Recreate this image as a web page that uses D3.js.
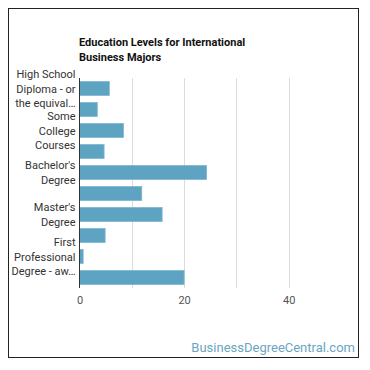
<!DOCTYPE html>
<html>
<head>
<meta charset="utf-8">
<script src="https://cdn.jsdelivr.net/npm/d3@7"></script>
<style>
  body { margin: 0; background: #fff; }
  svg { font-family: Roboto, "Noto Sans", sans-serif; }
</style>
</head>
<body>
<script>
const width = 370;
const height = 370;

const categories = [
  "High School Diploma - or the equivalent (for example, GED)",
  "Post-Secondary Certificate",
  "Some College Courses",
  "Associate's Degree",
  "Bachelor's Degree",
  "Post-Baccalaureate Certificate",
  "Master's Degree",
  "Post-Master's Certificate",
  "First Professional Degree - awarded for completion of a program",
  "Doctoral Degree"
];
// label lines as shown beside the axis (every other one is skipped)
const tickLines = [
  ["High School", "Diploma - or", "the equival…"],
  [],
  ["Some", "College", "Courses"],
  [],
  ["Bachelor's", "Degree"],
  [],
  ["Master's", "Degree"],
  [],
  ["First", "Professional", "Degree - aw…"],
  []
];
const values = [5.7, 3.4, 8.4, 4.7, 24.3, 11.9, 15.8, 4.9, 0.7, 20.0];
const xTicks = [0, 10, 20, 30, 40];
const xLabels = [0, 20, 40];

const svg = d3.select("body").append("svg")
  .attr("width", width)
  .attr("height", height);

// outer frame
svg.append("rect")
  .attr("x", 8.5).attr("y", 8.5)
  .attr("width", 350).attr("height", 349)
  .attr("fill", "none")
  .attr("stroke", "#222")
  .attr("stroke-width", 1);

const plotLeft = 79.5, plotRight = 341, plotTop = 78, plotBottom = 288;

const x = d3.scaleLinear().domain([0, 50]).range([plotLeft, plotRight]);
const y = d3.scaleBand().domain(categories).range([plotTop, plotBottom]).paddingInner(0.34).paddingOuter(0.17);

// title
svg.append("text")
  .attr("x", 79).attr("y", 46)
  .attr("font-size", 11).attr("font-weight", "bold").attr("fill", "#111")
  .selectAll("tspan")
  .data(["Education Levels for International", "Business Majors"])
  .join("tspan")
    .attr("x", 79)
    .attr("dy", (d, i) => i ? 15 : 0)
    .text(d => d);

// grid
svg.append("g")
  .selectAll("line")
  .data(xTicks.slice(1))
  .join("line")
    .attr("x1", d => Math.round(x(d)) + 0.5)
    .attr("x2", d => Math.round(x(d)) + 0.5)
    .attr("y1", plotTop).attr("y2", plotBottom)
    .attr("stroke", "#dcdcdc");

// bars
svg.append("g")
  .selectAll("rect")
  .data(values)
  .join("rect")
    .attr("x", x(0))
    .attr("y", (d, i) => y(categories[i]))
    .attr("width", d => x(d) - x(0))
    .attr("height", y.bandwidth())
    .attr("fill", "#5ea3c1")
    .attr("stroke", "#7db6cf")
    .attr("stroke-width", 0.8);

// x axis labels
const xAxis = d3.axisBottom(x).tickValues(xLabels).tickSize(0).tickPadding(8);
const gx = svg.append("g")
  .attr("transform", "translate(0," + plotBottom + ")")
  .call(xAxis);
gx.select(".domain").remove();
gx.selectAll("text").attr("font-size", 11).attr("fill", "#555").attr("font-family", "Roboto, sans-serif");

// y axis
const yAxis = d3.axisLeft(y).tickSize(0).tickFormat("");
const gy = svg.append("g")
  .attr("transform", "translate(" + plotLeft + ",0)")
  .call(yAxis);
gy.select(".domain").attr("stroke", "#333").attr("d", "M0," + plotTop + "V" + plotBottom);

gy.selectAll(".tick").each(function(d, i) {
  const lines = tickLines[i];
  const t = d3.select(this).select("text")
    .attr("x", -4)
    .attr("font-size", 11)
    .attr("fill", "#333")
    .attr("font-family", "Roboto, sans-serif")
    .attr("dy", null);
  const n = lines.length;
  t.selectAll("tspan")
    .data(lines)
    .join("tspan")
      .attr("x", -4)
      .attr("y", (l, k) => (k - (n - 1) / 2) * 14.5 + 4)
      .text(l => l);
});

// watermark
svg.append("text")
  .attr("x", 355).attr("y", 352)
  .attr("text-anchor", "end")
  .attr("font-size", 13)
  .attr("fill", "#6ba5c2")
  .text("BusinessDegreeCentral.com");
</script>
</body>
</html>
